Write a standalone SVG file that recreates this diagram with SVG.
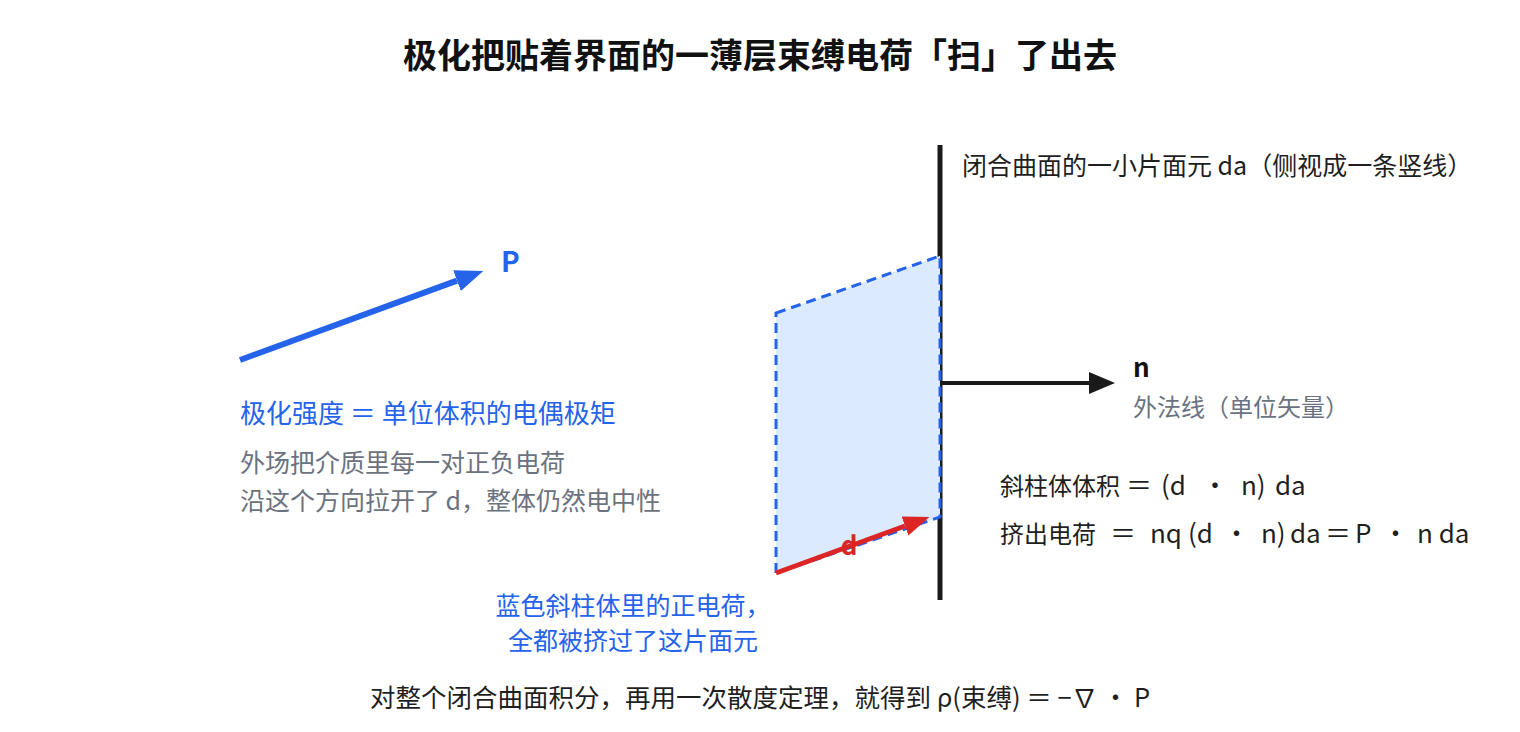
<svg xmlns="http://www.w3.org/2000/svg" width="1520" height="732" viewBox="0 0 1520 732">
<style>
text { font-family: "Noto Sans CJK SC", "Noto Sans", sans-serif; }
.title { font-size: 34px; font-weight: 700; fill: #111111; text-anchor: middle; }
.body { fill: #1f1f1f; }
.gray { fill: #6b7280; }
.blue { fill: #2563eb; }
.lbl { font-weight: 700; }
.fz { font-size: 26px; }
.cj { font-size: 24px; }
</style>
<defs>
<marker id="ahBlue" markerUnits="userSpaceOnUse" markerWidth="30" markerHeight="24" refX="0" refY="11" orient="auto">
<path d="M0,0 L28,11 L0,22 Z" fill="#2563eb"/>
</marker>
<marker id="ahRed" markerUnits="userSpaceOnUse" markerWidth="28" markerHeight="22" refX="0" refY="10" orient="auto">
<path d="M0,0 L26,10 L0,20 Z" fill="#dc2626"/>
</marker>
<marker id="ahBlack" markerUnits="userSpaceOnUse" markerWidth="28" markerHeight="24" refX="0" refY="11" orient="auto">
<path d="M0,0 L26,11 L0,22 Z" fill="#1a1a1a"/>
</marker>
</defs>
<rect width="1520" height="732" fill="#ffffff"/>
<g id="title"><text class="title" x="760" y="68">极化把贴着界面的一薄层束缚电荷「扫」了出去</text></g>
<g id="surface">
<line x1="940" y1="145" x2="940" y2="600" stroke="#1a1a1a" stroke-width="5"/>
<text class="body" x="962" y="175" font-size="25">闭合曲面的一小片面元 da（侧视成一条竖线）</text>
</g>
<g id="prism">
<polygon points="776,313 940,256 940,517 776,573" fill="#dbeafe" stroke="#2563eb" stroke-width="3" stroke-dasharray="10 6"/>
</g>
<g id="connectors">
<line x1="240" y1="360" x2="457" y2="280.6" stroke="#2563eb" stroke-width="6" marker-end="url(#ahBlue)"/>
<line x1="940" y1="383" x2="1089" y2="383" stroke="#1a1a1a" stroke-width="4" marker-end="url(#ahBlack)"/>
<line x1="776" y1="573" x2="905" y2="526" stroke="#dc2626" stroke-width="5" marker-end="url(#ahRed)"/>
</g>
<g id="P">
<text class="lbl" x="501" y="272" font-size="28" fill="#2563eb">P</text>
<text class="blue" x="240" y="423" font-size="26">极化强度 ＝ 单位体积的电偶极矩</text>
<text class="gray" x="240" y="472" font-size="25">外场把介质里每一对正负电荷</text>
<text class="gray" x="240" y="510" font-size="25">沿这个方向拉开了 d，整体仍然电中性</text>
</g>
<g id="d"><text class="lbl" x="849" y="555" font-size="26" fill="#dc2626" text-anchor="middle">d</text></g>
<g id="n">
<text class="lbl" x="1133" y="377" font-size="26" fill="#111111">n</text>
<text class="gray" x="1133" y="416" font-size="24">外法线（单位矢量）</text>
</g>
<g id="formulas">
<text class="body" y="495" font-size="25"><tspan class="cj" x="1000">斜柱体体积</tspan><tspan class="fz" x="1126">＝</tspan><tspan class="fz" x="1161">(d</tspan><tspan class="fz" x="1202">·</tspan><tspan class="fz" x="1241">n)</tspan><tspan class="fz" x="1275">da</tspan></text>
<text class="body" y="543" font-size="25"><tspan class="cj" x="1000">挤出电荷</tspan><tspan class="fz" x="1110">＝</tspan><tspan class="fz" x="1150">nq</tspan><tspan class="fz" x="1188">(d</tspan><tspan class="fz" x="1223.5">·</tspan><tspan class="fz" x="1261">n)</tspan><tspan class="fz" x="1290">da</tspan><tspan class="fz" x="1325">＝</tspan><tspan class="fz" x="1355">P</tspan><tspan class="fz" x="1382.5">·</tspan><tspan class="fz" x="1417">n da</tspan></text>
</g>
<g id="caption">
<text class="blue" x="633" y="615" font-size="25" text-anchor="middle">蓝色斜柱体里的正电荷，</text>
<text class="blue" x="633" y="650" font-size="25" text-anchor="middle">全都被挤过了这片面元</text>
</g>
<g id="conclusion"><text class="body" x="370" y="707" font-size="25.5">对整个闭合曲面积分，再用一次散度定理，就得到 ρ(束缚) ＝ −∇ · P</text></g>
</svg>
